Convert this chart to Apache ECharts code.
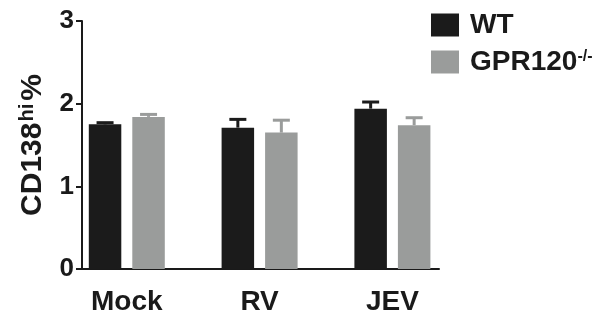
<!DOCTYPE html>
<html><head><meta charset="utf-8">
<script src="https://cdn.jsdelivr.net/npm/echarts@6/dist/echarts.min.js"></script>
<style>html,body{margin:0;padding:0;background:#fff}#c{width:609px;height:320px}</style>
</head><body><div id="c"></div>
<script>
const categories = ['Mock', 'RV', 'JEV'];
const wtMean = [1.75, 1.71, 1.94];
const wtErr = [0.02, 0.10, 0.08];
const koMean = [1.84, 1.65, 1.74];
const koErr = [0.03, 0.15, 0.09];
const yTicks = [0, 1, 2, 3];

const WT_COLOR = '#1b1b1b';
const KO_COLOR = '#9a9c9b';
const FONT = 'Liberation Sans, Arial, sans-serif';
const BAR_W = 32.5;
const GAP = 11;

function errSeries(name, means, errs, color, side) {
  return {
    type: 'custom', name: name + ' err', xAxisIndex: 0, yAxisIndex: 0, z: 3,
    silent: true,
    data: means.map((m, i) => [i, m, m + errs[i]]),
    renderItem: function (params, api) {
      const off = side * (BAR_W + GAP) / 2;
      const p0 = api.coord([api.value(0), api.value(1)]);
      const p1 = api.coord([api.value(0), api.value(2)]);
      const x = p0[0] + off;
      const capHalf = 8.5;
      const st = { stroke: color, lineWidth: 3 };
      return { type: 'group', children: [
        { type: 'line', shape: { x1: x, y1: p0[1], x2: x, y2: p1[1] }, style: st },
        { type: 'line', shape: { x1: x - capHalf, y1: p1[1], x2: x + capHalf, y2: p1[1] }, style: st }
      ]};
    }
  };
}

const chart = echarts.init(document.getElementById('c'), null, { renderer: 'canvas' });
chart.setOption({
  animation: false,
  backgroundColor: '#ffffff',
  textStyle: { fontFamily: FONT },
  grid: [
    { left: 60.4, width: 398.4, top: 21, height: 248 },
    { left: 82, width: 357, top: 21, height: 248 }
  ],
  legend: {
    orient: 'vertical', left: 431, top: 11, padding: 0,
    itemWidth: 28, itemHeight: 23, itemGap: 9,
    data: ['WT', 'GPR120'],
    icon: 'rect',
    formatter: function (n) { return n === 'GPR120' ? '{a|GPR120}{s|-/-}' : '{a|' + n + '}'; },
    textStyle: {
      padding: [0, 0, 0, 6],
      rich: {
        a: { fontSize: 28, fontWeight: 'bold', color: '#1a1a1a', fontFamily: FONT, lineHeight: 26 },
        s: { fontSize: 16, fontWeight: 'bold', color: '#1a1a1a', fontFamily: FONT, verticalAlign: 'top', lineHeight: 14 }
      }
    }
  },
  xAxis: [
    {
      type: 'category', gridIndex: 0, data: categories,
      axisLine: { show: false }, axisTick: { show: false },
      axisLabel: { fontSize: 28, fontWeight: 'bold', color: '#1a1a1a', margin: 19, fontFamily: FONT }
    },
    {
      type: 'value', gridIndex: 1, min: 0, max: 1,
      axisLine: { show: true, lineStyle: { color: '#1a1a1a', width: 2 } },
      axisTick: { show: false }, axisLabel: { show: false }, splitLine: { show: false }
    }
  ],
  yAxis: [
    { type: 'value', gridIndex: 0, min: 0, max: 3, show: false },
    {
      type: 'value', gridIndex: 1, min: 0, max: 3, interval: 1,
      axisLine: { show: true, lineStyle: { color: '#1a1a1a', width: 2 } },
      axisTick: { show: true, length: 6, lineStyle: { color: '#1a1a1a', width: 2 } },
      axisLabel: {
        fontSize: 26, fontWeight: 'bold', color: '#1a1a1a', margin: 8, fontFamily: FONT,
        formatter: function (v) { return yTicks.indexOf(v) >= 0 ? String(v) : ''; }
      },
      splitLine: { show: false },
      name: '{a|CD138}{s|hi}{a|%}',
      nameLocation: 'middle', nameRotate: 90, nameGap: 33,
      nameTextStyle: {
        rich: {
          a: { fontSize: 30, fontWeight: 'bold', color: '#1a1a1a', fontFamily: FONT, lineHeight: 32 },
          s: { fontSize: 20, fontWeight: 'bold', color: '#1a1a1a', fontFamily: FONT, verticalAlign: 'top', lineHeight: 18, padding: [0, 3, 0, 1] }
        }
      }
    }
  ],
  series: [
    { type: 'bar', name: 'WT', data: wtMean, xAxisIndex: 0, yAxisIndex: 0, barWidth: BAR_W, barGap: (GAP / BAR_W * 100) + '%', itemStyle: { color: WT_COLOR } },
    { type: 'bar', name: 'GPR120', data: koMean, xAxisIndex: 0, yAxisIndex: 0, barWidth: BAR_W, barGap: (GAP / BAR_W * 100) + '%', itemStyle: { color: KO_COLOR } },
    errSeries('WT', wtMean, wtErr, WT_COLOR, -1),
    errSeries('GPR120', koMean, koErr, KO_COLOR, 1)
  ]
});
</script></body></html>
